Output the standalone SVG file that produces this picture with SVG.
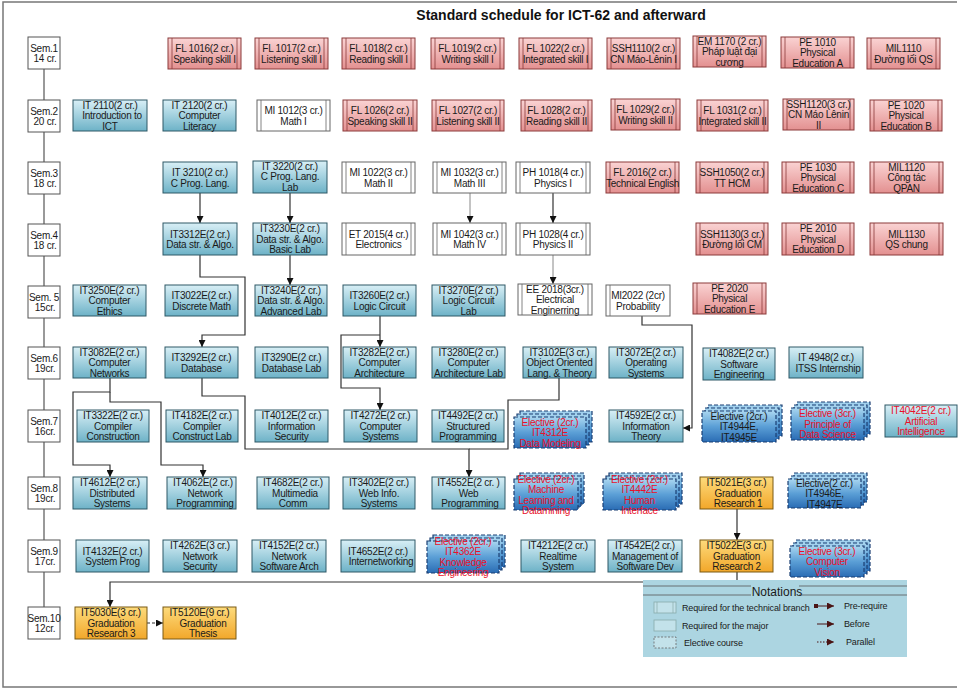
<svg xmlns="http://www.w3.org/2000/svg" width="960" height="689" viewBox="0 0 960 689">
<defs>
<linearGradient id="gb" x1="0" y1="0" x2="0" y2="1"><stop offset="0" stop-color="#d8eff6"/><stop offset="1" stop-color="#6db2c7"/></linearGradient>
<linearGradient id="gp" x1="0" y1="0" x2="0" y2="1"><stop offset="0" stop-color="#fad3d3"/><stop offset="1" stop-color="#e39090"/></linearGradient>
<linearGradient id="go" x1="0" y1="0" x2="0" y2="1"><stop offset="0" stop-color="#fddb7c"/><stop offset="1" stop-color="#f2a72a"/></linearGradient>
<linearGradient id="ge" x1="0" y1="0" x2="0" y2="1"><stop offset="0" stop-color="#a9d6f0"/><stop offset="0.5" stop-color="#5b9fd6"/><stop offset="1" stop-color="#2a6cb4"/></linearGradient>
<marker id="ar" viewBox="0 0 10 10" refX="10" refY="5" markerWidth="7" markerHeight="7" orient="auto" markerUnits="userSpaceOnUse"><path d="M0,0 L10,5 L0,10 z" fill="#111"/></marker>
<marker id="arr" viewBox="0 0 10 10" refX="10" refY="5" markerWidth="7" markerHeight="7" orient="auto" markerUnits="userSpaceOnUse"><path d="M0,0 L10,5 L0,10 z" fill="#4a1414"/></marker>
<style>
.pk{fill:url(#gp);stroke:#8b3b3b;stroke-width:1}
.pl{stroke:#8b3b3b;stroke-width:.8}
.wt{fill:#fff;stroke:#666;stroke-width:1}
.wl{stroke:#666;stroke-width:.8}
.bl{fill:url(#gb);stroke:#2e5866;stroke-width:1}
.or{fill:url(#go);stroke:#7a5a14;stroke-width:1}
.el{fill:url(#ge);stroke:#1b3f73;stroke-dasharray:4 2;stroke-width:1.2}
.sem{fill:#fff;stroke:#555;stroke-width:1}
.t{font-family:"Liberation Sans",Arial,sans-serif;font-size:10px;fill:#1a1a1a;text-anchor:middle;letter-spacing:-0.25px}
.r{fill:#e8102a}
.cn{fill:none;stroke:#333;stroke-width:1.2}
.cg{fill:none;stroke:#888;stroke-width:1}
.fr{fill:none;stroke:#777;stroke-width:1.5}
.lg{font-family:"Liberation Sans",Arial,sans-serif;font-size:9px;fill:#1a1a1a;letter-spacing:-0.15px}
</style>
</defs>
<rect width="960" height="689" fill="#fff"/>
<path class="fr" d="M957,2 H3 V687 H957"/>
<text x="561" y="20" font-family="Liberation Sans,Arial,sans-serif" font-size="14" font-weight="bold" text-anchor="middle" fill="#111">Standard schedule for ICT-62 and afterward</text>

<!-- semester spine -->
<g id="sem-spine"><path d="M44,69 V607" stroke="#555" stroke-width="1.2"/></g>
<g id="sem1"><rect class="sem" x="28" y="37" width="32" height="32"/><text class="t"><tspan x="44" y="51.5">Sem.1</tspan><tspan x="45" y="62">14 cr.</tspan></text></g>
<g id="sem2"><rect class="sem" x="28" y="100" width="32" height="32"/><text class="t"><tspan x="44" y="114.5">Sem.2</tspan><tspan x="45" y="125">20 cr.</tspan></text></g>
<g id="sem3"><rect class="sem" x="28" y="162" width="32" height="32"/><text class="t"><tspan x="44" y="176.5">Sem.3</tspan><tspan x="45" y="187">18 cr.</tspan></text></g>
<g id="sem4"><rect class="sem" x="28" y="224" width="32" height="32"/><text class="t"><tspan x="44" y="238.5">Sem.4</tspan><tspan x="45" y="249">18 cr.</tspan></text></g>
<g id="sem5"><rect class="sem" x="28" y="286" width="32" height="32"/><text class="t"><tspan x="44" y="300.5">Sem. 5</tspan><tspan x="45" y="311">15cr.</tspan></text></g>
<g id="sem6"><rect class="sem" x="28" y="347" width="32" height="32"/><text class="t"><tspan x="44" y="361.5">Sem.6</tspan><tspan x="45" y="372">19cr.</tspan></text></g>
<g id="sem7"><rect class="sem" x="28" y="410" width="32" height="32"/><text class="t"><tspan x="44" y="424.5">Sem.7</tspan><tspan x="45" y="435">16cr.</tspan></text></g>
<g id="sem8"><rect class="sem" x="28" y="477" width="32" height="32"/><text class="t"><tspan x="44" y="491.5">Sem.8</tspan><tspan x="45" y="502">19cr.</tspan></text></g>
<g id="sem9"><rect class="sem" x="28" y="540" width="32" height="32"/><text class="t"><tspan x="44" y="554.5">Sem.9</tspan><tspan x="45" y="565">17cr.</tspan></text></g>
<g id="sem10"><rect class="sem" x="28" y="607" width="32" height="32"/><text class="t"><tspan x="44" y="621.5">Sem.10</tspan><tspan x="45" y="632">12cr.</tspan></text></g>

<!-- connectors -->
<g id="connectors">
<path class="cn" d="M200,193 V223" marker-end="url(#ar)"/>
<path class="cn" d="M290,193 V223" marker-end="url(#ar)"/>
<path class="cn" d="M290,255 V285" marker-end="url(#ar)"/>
<path class="cn" d="M200,255 V277 H245 V335 H202 V347" marker-end="url(#ar)"/>
<path class="cg" d="M470,193 V223" marker-end="url(#ar)"/>
<path class="cn" d="M553,193 V223" marker-end="url(#ar)"/>
<path class="cg" d="M553,255 V284" marker-end="url(#ar)"/>
<path class="cn" d="M380,316 V347" marker-end="url(#ar)"/>
<path class="cn" d="M380,335 H341 V388 H380 V410" marker-end="url(#ar)"/>
<path class="cn" d="M110,378 V392 H73 V465 H110 V477" marker-end="url(#ar)"/>
<path class="cn" d="M110,392 V402 H161 V465 H203 V477" marker-end="url(#ar)"/>
<path class="cn" d="M202,378 V396 H245 V449 H469 V477" marker-end="url(#ar)"/>
<path class="cn" d="M559,378 V400 H508 V449 H469"/>
<path class="cn" d="M642,316 V325 H692 V428 H683" marker-end="url(#ar)"/>
<path class="cn" d="M737,509 V540" marker-end="url(#ar)"/>
<path class="cn" d="M737,572 V582 H110 V607" marker-end="url(#ar)"/>
<path class="cn" d="M147,623 H163" stroke-dasharray="3 2" marker-end="url(#ar)"/>
</g>

<!-- Row 1 -->
<g id="FL1016"><rect class="pk" x="168" y="38" width="73" height="31"/><path class="pl" d="M172,38V69M237,38V69"/><text class="t"><tspan x="204.5" y="52">FL 1016(2 cr.)</tspan><tspan x="204.5" y="62.5">Speaking skill I</tspan></text></g>
<g id="FL1017"><rect class="pk" x="255" y="38" width="73" height="31"/><path class="pl" d="M259,38V69M324,38V69"/><text class="t"><tspan x="291.5" y="52">FL 1017(2 cr.)</tspan><tspan x="291.5" y="62.5">Listening skill I</tspan></text></g>
<g id="FL1018"><rect class="pk" x="342" y="38" width="73" height="31"/><path class="pl" d="M346,38V69M411,38V69"/><text class="t"><tspan x="378.5" y="52">FL 1018(2 cr.)</tspan><tspan x="378.5" y="62.5">Reading skill I</tspan></text></g>
<g id="FL1019"><rect class="pk" x="431" y="38" width="73" height="31"/><path class="pl" d="M435,38V69M500,38V69"/><text class="t"><tspan x="467.5" y="52">FL 1019(2 cr.)</tspan><tspan x="467.5" y="62.5">Writing skill I</tspan></text></g>
<g id="FL1022"><rect class="pk" x="519" y="38" width="73" height="31"/><path class="pl" d="M523,38V69M588,38V69"/><text class="t"><tspan x="555.5" y="52">FL 1022(2 cr.)</tspan><tspan x="555.5" y="62.5">Integrated skill I</tspan></text></g>
<g id="SSH1110"><rect class="pk" x="607" y="38" width="73" height="31"/><path class="pl" d="M611,38V69M676,38V69"/><text class="t"><tspan x="643.5" y="52">SSH1110(2 cr.)</tspan><tspan x="643.5" y="62.5">CN Máo-Lênin I</tspan></text></g>
<g id="EM1170"><rect class="pk" x="693" y="36" width="73" height="31"/><path class="pl" d="M697,36V67M762,36V67"/><text class="t"><tspan x="729.5" y="44.5">EM 1170 (2 cr.)</tspan><tspan x="729.5" y="55">Pháp luật đại</tspan><tspan x="729.5" y="65.5">cương</tspan></text></g>
<g id="PE1010"><rect class="pk" x="781" y="37" width="73" height="31"/><path class="pl" d="M785,37V68M850,37V68"/><text class="t"><tspan x="817.5" y="45.5">PE 1010</tspan><tspan x="817.5" y="56">Physical</tspan><tspan x="817.5" y="66.5">Education A</tspan></text></g>
<g id="MIL1110"><rect class="pk" x="867" y="38" width="73" height="31"/><path class="pl" d="M871,38V69M936,38V69"/><text class="t"><tspan x="903.5" y="52">MIL1110</tspan><tspan x="903.5" y="62.5">Đường lối QS</tspan></text></g>

<!-- Row 2 -->
<g id="IT2110"><rect class="bl" x="73" y="100" width="74" height="31"/><text class="t"><tspan x="110" y="108.5">IT 2110(2 cr.)</tspan><tspan x="112" y="119">Introduction to</tspan><tspan x="110" y="129.5">ICT</tspan></text></g>
<g id="IT2120"><rect class="bl" x="163" y="100" width="73" height="31"/><text class="t"><tspan x="199.5" y="108.5">IT 2120(2 cr.)</tspan><tspan x="199.5" y="119">Computer</tspan><tspan x="199.5" y="129.5">Literacy</tspan></text></g>
<g id="MI1012"><rect class="wt" x="257" y="100" width="73" height="31"/><path class="wl" d="M261,100V131M326,100V131"/><text class="t"><tspan x="293.5" y="114">MI 1012(3 cr.)</tspan><tspan x="293.5" y="124.5">Math I</tspan></text></g>
<g id="FL1026"><rect class="pk" x="343" y="100" width="74" height="31"/><path class="pl" d="M347,100V131M413,100V131"/><text class="t"><tspan x="380" y="114">FL 1026(2 cr.)</tspan><tspan x="380" y="124.5">Speaking skill II</tspan></text></g>
<g id="FL1027"><rect class="pk" x="432" y="100" width="72" height="31"/><path class="pl" d="M436,100V131M500,100V131"/><text class="t"><tspan x="468" y="114">FL 1027(2 cr.)</tspan><tspan x="468" y="124.5">Listening skill II</tspan></text></g>
<g id="FL1028"><rect class="pk" x="521" y="100" width="71" height="31"/><path class="pl" d="M525,100V131M588,100V131"/><text class="t"><tspan x="556.5" y="114">FL 1028(2 cr.)</tspan><tspan x="556.5" y="124.5">Reading skill II</tspan></text></g>
<g id="FL1029"><rect class="pk" x="611" y="99" width="69" height="31"/><path class="pl" d="M615,99V130M676,99V130"/><text class="t"><tspan x="645.5" y="113">FL 1029(2 cr.)</tspan><tspan x="645.5" y="123.5">Writing skill II</tspan></text></g>
<g id="FL1031"><rect class="pk" x="697" y="100" width="71" height="31"/><path class="pl" d="M701,100V131M764,100V131"/><text class="t"><tspan x="732.5" y="114">FL 1031(2 cr.)</tspan><tspan x="732.5" y="124.5">Integrated skill II</tspan></text></g>
<g id="SSH1120"><rect class="pk" x="783" y="99" width="71" height="31"/><path class="pl" d="M787,99V130M850,99V130"/><text class="t"><tspan x="818.5" y="107.5">SSH1120(3 cr.)</tspan><tspan x="818.5" y="118">CN Máo Lênin</tspan><tspan x="818.5" y="128.5">II</tspan></text></g>
<g id="PE1020"><rect class="pk" x="870" y="100" width="72" height="31"/><path class="pl" d="M874,100V131M938,100V131"/><text class="t"><tspan x="906" y="108.5">PE 1020</tspan><tspan x="906" y="119">Physical</tspan><tspan x="906" y="129.5">Education B</tspan></text></g>

<!-- Row 3 -->
<g id="IT3210"><rect class="bl" x="163" y="162" width="74" height="31"/><text class="t"><tspan x="200" y="176">IT 3210(2 cr.)</tspan><tspan x="200" y="186.5">C Prog. Lang.</tspan></text></g>
<g id="IT3220"><rect class="bl" x="253" y="161" width="74" height="32"/><text class="t"><tspan x="290" y="169.5">IT 3220(2 cr.)</tspan><tspan x="290" y="180">C Prog. Lang.</tspan><tspan x="290" y="190.5">Lab</tspan></text></g>
<g id="MI1022"><rect class="wt" x="342" y="162" width="73" height="31"/><path class="wl" d="M346,162V193M411,162V193"/><text class="t"><tspan x="378.5" y="176">MI 1022(3 cr.)</tspan><tspan x="378.5" y="186.5">Math II</tspan></text></g>
<g id="MI1032"><rect class="wt" x="433" y="162" width="73" height="31"/><path class="wl" d="M437,162V193M502,162V193"/><text class="t"><tspan x="469.5" y="176">MI 1032(3 cr.)</tspan><tspan x="469.5" y="186.5">Math III</tspan></text></g>
<g id="PH1018"><rect class="wt" x="516" y="162" width="74" height="31"/><path class="wl" d="M520,162V193M586,162V193"/><text class="t"><tspan x="553" y="176">PH 1018(4 cr.)</tspan><tspan x="553" y="186.5">Physics I</tspan></text></g>
<g id="FL2016"><rect class="pk" x="606" y="162" width="73" height="31"/><path class="pl" d="M610,162V193M675,162V193"/><text class="t"><tspan x="642.5" y="176">FL 2016(2 cr.)</tspan><tspan x="642.5" y="186.5">Technical English</tspan></text></g>
<g id="SSH1050"><rect class="pk" x="696" y="162" width="72" height="31"/><path class="pl" d="M700,162V193M764,162V193"/><text class="t"><tspan x="732" y="176">SSH1050(2 cr.)</tspan><tspan x="732" y="186.5">TT HCM</tspan></text></g>
<g id="PE1030"><rect class="pk" x="782" y="162" width="72" height="31"/><path class="pl" d="M786,162V193M850,162V193"/><text class="t"><tspan x="818" y="170.5">PE 1030</tspan><tspan x="818" y="181">Physical</tspan><tspan x="818" y="191.5">Education C</tspan></text></g>
<g id="MIL1120"><rect class="pk" x="870" y="162" width="73" height="31"/><path class="pl" d="M874,162V193M939,162V193"/><text class="t"><tspan x="906.5" y="170.5">MIL1120</tspan><tspan x="906.5" y="181">Công tác</tspan><tspan x="906.5" y="191.5">QPAN</tspan></text></g>

<!-- Row 4 -->
<g id="IT3312E"><rect class="bl" x="163" y="223" width="74" height="32"/><text class="t"><tspan x="200" y="237.5">IT3312E(2 cr.)</tspan><tspan x="200" y="248">Data str. &amp; Algo.</tspan></text></g>
<g id="IT3230E"><rect class="bl" x="253" y="223" width="74" height="32"/><text class="t"><tspan x="290" y="232">IT3230E(2 cr.)</tspan><tspan x="290" y="242.5">Data str. &amp; Algo.</tspan><tspan x="290" y="253">Basic Lab</tspan></text></g>
<g id="ET2015"><rect class="wt" x="342" y="223" width="73" height="32"/><path class="wl" d="M346,223V255M411,223V255"/><text class="t"><tspan x="378.5" y="237.5">ET 2015(4 cr.)</tspan><tspan x="378.5" y="248">Electronics</tspan></text></g>
<g id="MI1042"><rect class="wt" x="433" y="223" width="73" height="32"/><path class="wl" d="M437,223V255M502,223V255"/><text class="t"><tspan x="469.5" y="237.5">MI 1042(3 cr.)</tspan><tspan x="469.5" y="248">Math IV</tspan></text></g>
<g id="PH1028"><rect class="wt" x="516" y="223" width="74" height="32"/><path class="wl" d="M520,223V255M586,223V255"/><text class="t"><tspan x="553" y="237.5">PH 1028(4 cr.)</tspan><tspan x="553" y="248">Physics II</tspan></text></g>
<g id="SSH1130"><rect class="pk" x="696" y="223" width="72" height="32"/><path class="pl" d="M700,223V255M764,223V255"/><text class="t"><tspan x="732" y="237.5">SSH1130(3 cr.)</tspan><tspan x="732" y="248">Đường lối CM</tspan></text></g>
<g id="PE2010"><rect class="pk" x="782" y="223" width="72" height="32"/><path class="pl" d="M786,223V255M850,223V255"/><text class="t"><tspan x="818" y="232">PE 2010</tspan><tspan x="818" y="242.5">Physical</tspan><tspan x="818" y="253">Education D</tspan></text></g>
<g id="MIL1130"><rect class="pk" x="870" y="223" width="73" height="32"/><path class="pl" d="M874,223V255M939,223V255"/><text class="t"><tspan x="906.5" y="237.5">MIL1130</tspan><tspan x="906.5" y="248">QS chung</tspan></text></g>

<!-- Row 5 -->
<g id="IT3250E"><rect class="bl" x="73" y="285" width="73" height="31"/><text class="t"><tspan x="109.5" y="293.5">IT3250E(2 cr.)</tspan><tspan x="109.5" y="304">Computer</tspan><tspan x="109.5" y="314.5">Ethics</tspan></text></g>
<g id="IT3022E"><rect class="bl" x="165" y="285" width="73" height="31"/><text class="t"><tspan x="201.5" y="299">IT3022E(2 cr.)</tspan><tspan x="201.5" y="309.5">Discrete Math</tspan></text></g>
<g id="IT3240E"><rect class="bl" x="255" y="285" width="72" height="31"/><text class="t"><tspan x="291" y="293.5">IT3240E(2 cr.)</tspan><tspan x="291" y="304">Data str. &amp; Algo.</tspan><tspan x="291" y="314.5">Advanced Lab</tspan></text></g>
<g id="IT3260E"><rect class="bl" x="343" y="285" width="73" height="31"/><text class="t"><tspan x="379.5" y="299">IT3260E(2 cr.)</tspan><tspan x="379.5" y="309.5">Logic Circuit</tspan></text></g>
<g id="IT3270E"><rect class="bl" x="432" y="285" width="73" height="31"/><text class="t"><tspan x="468.5" y="293.5">IT3270E(2 cr.)</tspan><tspan x="468.5" y="304">Logic Circuit</tspan><tspan x="468.5" y="314.5">Lab</tspan></text></g>
<g id="EE2018"><rect class="wt" x="518" y="284" width="74" height="31"/><path class="wl" d="M522,284V315M588,284V315"/><text class="t"><tspan x="555" y="292.5">EE 2018(3cr.)</tspan><tspan x="555" y="303">Electrical</tspan><tspan x="555" y="313.5">Enginerring</tspan></text></g>
<g id="MI2022"><rect class="wt" x="606" y="285" width="64" height="31"/><path class="wl" d="M610,285V316"/><text class="t"><tspan x="638" y="299">MI2022 (2cr)</tspan><tspan x="638" y="309.5">Probability</tspan></text></g>
<g id="PE2020"><rect class="pk" x="693" y="283" width="73" height="31"/><path class="pl" d="M697,283V314M762,283V314"/><text class="t"><tspan x="729.5" y="291.5">PE 2020</tspan><tspan x="729.5" y="302">Physical</tspan><tspan x="729.5" y="312.5">Education E</tspan></text></g>

<!-- Row 6 -->
<g id="IT3082E"><rect class="bl" x="73" y="347" width="73" height="31"/><text class="t"><tspan x="109.5" y="355.5">IT3082E(2 cr.)</tspan><tspan x="109.5" y="366">Computer</tspan><tspan x="109.5" y="376.5">Networks</tspan></text></g>
<g id="IT3292E"><rect class="bl" x="165" y="347" width="73" height="31"/><text class="t"><tspan x="201.5" y="361">IT3292E(2 cr.)</tspan><tspan x="201.5" y="371.5">Database</tspan></text></g>
<g id="IT3290E"><rect class="bl" x="255" y="347" width="73" height="31"/><text class="t"><tspan x="291.5" y="361">IT3290E(2 cr.)</tspan><tspan x="291.5" y="371.5">Database Lab</tspan></text></g>
<g id="IT3282E"><rect class="bl" x="343" y="347" width="73" height="31"/><text class="t"><tspan x="379.5" y="355.5">IT3282E(2 cr.)</tspan><tspan x="379.5" y="366">Computer</tspan><tspan x="379.5" y="376.5">Architecture</tspan></text></g>
<g id="IT3280E"><rect class="bl" x="432" y="347" width="73" height="31"/><text class="t"><tspan x="468.5" y="355.5">IT3280E(2 cr.)</tspan><tspan x="468.5" y="366">Computer</tspan><tspan x="468.5" y="376.5">Architecture Lab</tspan></text></g>
<g id="IT3102E"><rect class="bl" x="523" y="347" width="73" height="31"/><text class="t"><tspan x="559.5" y="355.5">IT3102E(3 cr.)</tspan><tspan x="559.5" y="366">Object Oriented</tspan><tspan x="559.5" y="376.5">Lang. &amp; Theory</tspan></text></g>
<g id="IT3072E"><rect class="bl" x="609" y="347" width="74" height="31"/><text class="t"><tspan x="646" y="355.5">IT3072E(2 cr.)</tspan><tspan x="646" y="366">Operating</tspan><tspan x="646" y="376.5">Systems</tspan></text></g>
<g id="IT4082E"><rect class="bl" x="703" y="348" width="72" height="32"/><text class="t"><tspan x="739" y="357">IT4082E(2 cr.)</tspan><tspan x="739" y="367.5">Software</tspan><tspan x="739" y="378">Engineering</tspan></text></g>
<g id="IT4948"><rect class="bl" x="789" y="347" width="74" height="31"/><text class="t"><tspan x="826" y="361">IT 4948(2 cr.)</tspan><tspan x="828" y="371.5">ITSS Internship</tspan></text></g>

<!-- Row 7 -->
<g id="IT3322E"><rect class="bl" x="77" y="410" width="72" height="32"/><text class="t"><tspan x="113" y="419">IT3322E(2 cr.)</tspan><tspan x="113" y="429.5">Compiler</tspan><tspan x="113" y="440">Construction</tspan></text></g>
<g id="IT4182E"><rect class="bl" x="166" y="410" width="72" height="32"/><text class="t"><tspan x="202" y="419">IT4182E(2 cr.)</tspan><tspan x="202" y="429.5">Compiler</tspan><tspan x="202" y="440">Construct Lab</tspan></text></g>
<g id="IT4012E"><rect class="bl" x="255" y="410" width="73" height="32"/><text class="t"><tspan x="291.5" y="419">IT4012E(2 cr.)</tspan><tspan x="291.5" y="429.5">Information</tspan><tspan x="291.5" y="440">Security</tspan></text></g>
<g id="IT4272E"><rect class="bl" x="344" y="410" width="73" height="32"/><text class="t"><tspan x="380.5" y="419">IT4272E(2 cr.)</tspan><tspan x="380.5" y="429.5">Computer</tspan><tspan x="380.5" y="440">Systems</tspan></text></g>
<g id="IT4492E"><rect class="bl" x="432" y="410" width="72" height="32"/><text class="t"><tspan x="468" y="419">IT4492E(2 cr.)</tspan><tspan x="468" y="429.5">Structured</tspan><tspan x="468" y="440">Programming</tspan></text></g>
<g id="EL-IT4312E"><rect class="el" x="520" y="411" width="72" height="31"/><rect class="el" x="517" y="414" width="72" height="31"/><rect class="el" x="514" y="417" width="72" height="31"/><text class="t r"><tspan x="550" y="425.5">Elective (2cr.)</tspan><tspan x="550" y="436">IT4312E</tspan><tspan x="550" y="446.5">Data Modeling</tspan></text></g>
<g id="IT4592E"><rect class="bl" x="609" y="410" width="74" height="32"/><text class="t"><tspan x="646" y="419">IT4592E(2 cr.)</tspan><tspan x="646" y="429.5">Information</tspan><tspan x="646" y="440">Theory</tspan></text></g>
<g id="EL-IT4944E"><rect class="el" x="708" y="405" width="74" height="31"/><rect class="el" x="705" y="408" width="74" height="31"/><rect class="el" x="702" y="411" width="74" height="31"/><text class="t"><tspan x="739" y="419.5">Elective (2cr.)</tspan><tspan x="739" y="430">IT4944E,</tspan><tspan x="739" y="440.5">IT4945E</tspan></text></g>
<g id="EL-DS"><rect class="el" x="797" y="402" width="73" height="32"/><rect class="el" x="794" y="405" width="73" height="32"/><rect class="el" x="791" y="408" width="73" height="32"/><text class="t r"><tspan x="827.5" y="417">Elective (3cr.)</tspan><tspan x="827.5" y="427.5">Principle of</tspan><tspan x="827.5" y="438">Data Science</tspan></text></g>
<g id="IT4042E"><rect class="bl" x="885" y="405" width="72" height="32"/><text class="t r"><tspan x="921" y="414">IT4042E(2 cr.)</tspan><tspan x="921" y="424.5">Artificial</tspan><tspan x="921" y="435">Intelligence</tspan></text></g>

<!-- Row 8 -->
<g id="IT4612E"><rect class="bl" x="73" y="477" width="74" height="32"/><text class="t"><tspan x="110" y="486">IT4612E(2 cr.)</tspan><tspan x="112" y="496.5">Distributed</tspan><tspan x="112" y="507">Systems</tspan></text></g>
<g id="IT4062E"><rect class="bl" x="167" y="477" width="69" height="32"/><text class="t"><tspan x="203" y="486">IT4062E(2 cr.)</tspan><tspan x="205" y="496.5">Network</tspan><tspan x="205" y="507">Programming</tspan></text></g>
<g id="IT4682E"><rect class="bl" x="257" y="477" width="72" height="32"/><text class="t"><tspan x="293" y="486">IT4682E(2 cr.)</tspan><tspan x="295" y="496.5">Multimedia</tspan><tspan x="293" y="507">Comm</tspan></text></g>
<g id="IT3402E"><rect class="bl" x="343" y="477" width="72" height="32"/><text class="t"><tspan x="379" y="486">IT3402E(2 cr.)</tspan><tspan x="379" y="496.5">Web Info.</tspan><tspan x="379" y="507">Systems</tspan></text></g>
<g id="IT4552E"><rect class="bl" x="432" y="477" width="73" height="32"/><text class="t"><tspan x="468.5" y="486">IT4552E(2 cr. )</tspan><tspan x="468.5" y="496.5">Web</tspan><tspan x="470" y="507">Programming</tspan></text></g>
<g id="EL-ML"><rect class="el" x="520" y="473" width="64" height="31"/><rect class="el" x="517" y="476" width="64" height="31"/><rect class="el" x="514" y="479" width="64" height="31"/><text class="t r"><tspan x="546" y="482.5">Elective (2cr.)</tspan><tspan x="546" y="493">Machine</tspan><tspan x="546" y="503.5">Learning and</tspan><tspan x="546" y="514">Datamining</tspan></text></g>
<g id="EL-IT4442E"><rect class="el" x="609" y="473" width="73" height="31"/><rect class="el" x="606" y="476" width="73" height="31"/><rect class="el" x="603" y="479" width="73" height="31"/><text class="t r"><tspan x="639.5" y="482.5">Elective (2cr.)</tspan><tspan x="639.5" y="493">IT4442E</tspan><tspan x="639.5" y="503.5">Human</tspan><tspan x="639.5" y="514">Interface</tspan></text></g>
<g id="IT5021E"><rect class="or" x="700" y="477" width="73" height="32"/><text class="t"><tspan x="736.5" y="486">IT5021E(3 cr.)</tspan><tspan x="738" y="496.5">Graduation</tspan><tspan x="738" y="507">Research 1</tspan></text></g>
<g id="EL-IT4946E"><rect class="el" x="794" y="473" width="73" height="29"/><rect class="el" x="791" y="476" width="73" height="29"/><rect class="el" x="788" y="479" width="73" height="29"/><text class="t"><tspan x="824.5" y="486.5">Elective(2 cr.)</tspan><tspan x="824.5" y="497">IT4946E,</tspan><tspan x="824.5" y="507.5">IT4947E</tspan></text></g>

<!-- Row 9 -->
<g id="IT4132E"><rect class="bl" x="76" y="540" width="73" height="32"/><text class="t"><tspan x="112.5" y="554.5">IT4132E(2 cr.)</tspan><tspan x="112.5" y="565">System Prog</tspan></text></g>
<g id="IT4262E"><rect class="bl" x="163" y="540" width="74" height="32"/><text class="t"><tspan x="200" y="549">IT4262E(3 cr.)</tspan><tspan x="200" y="559.5">Network</tspan><tspan x="200" y="570">Security</tspan></text></g>
<g id="IT4152E"><rect class="bl" x="252" y="540" width="74" height="32"/><text class="t"><tspan x="289" y="549">IT4152E(2 cr.)</tspan><tspan x="289" y="559.5">Network</tspan><tspan x="289" y="570">Software Arch</tspan></text></g>
<g id="IT4652E"><rect class="bl" x="341" y="540" width="74" height="32"/><text class="t"><tspan x="378" y="554.5">IT4652E(2 cr.)</tspan><tspan x="381" y="565">Internetworking</tspan></text></g>
<g id="EL-IT4362E"><rect class="el" x="433" y="535" width="72" height="32"/><rect class="el" x="430" y="538" width="72" height="32"/><rect class="el" x="427" y="541" width="72" height="32"/><text class="t r"><tspan x="463" y="544.5">Elective (2cr.)</tspan><tspan x="463" y="555">IT4362E</tspan><tspan x="463" y="565.5">Knowledge</tspan><tspan x="463" y="576">Engineering</tspan></text></g>
<g id="IT4212E"><rect class="bl" x="521" y="540" width="74" height="32"/><text class="t"><tspan x="558" y="549">IT4212E(2 cr.)</tspan><tspan x="558" y="559.5">Realtime</tspan><tspan x="558" y="570">System</tspan></text></g>
<g id="IT4542E"><rect class="bl" x="608" y="540" width="74" height="32"/><text class="t"><tspan x="645" y="549">IT4542E(2 cr.)</tspan><tspan x="645" y="559.5">Management of</tspan><tspan x="645" y="570">Software Dev</tspan></text></g>
<g id="IT5022E"><rect class="or" x="700" y="540" width="73" height="32"/><text class="t"><tspan x="736.5" y="549">IT5022E(3 cr.)</tspan><tspan x="736.5" y="559.5">Graduation</tspan><tspan x="736.5" y="570">Research 2</tspan></text></g>
<g id="EL-CV"><rect class="el" x="796" y="540" width="74" height="31"/><rect class="el" x="793" y="543" width="74" height="31"/><rect class="el" x="790" y="546" width="74" height="31"/><text class="t r"><tspan x="827" y="554.5">Elective (3cr.)</tspan><tspan x="827" y="565">Computer</tspan><tspan x="827" y="575.5">Vision</tspan></text></g>

<!-- Row 10 -->
<g id="IT5030E"><rect class="or" x="75" y="607" width="72" height="32"/><text class="t"><tspan x="111" y="616">IT5030E(3 cr.)</tspan><tspan x="111" y="626.5">Graduation</tspan><tspan x="111" y="637">Research 3</tspan></text></g>
<g id="IT5120E"><rect class="or" x="163" y="607" width="73" height="32"/><text class="t"><tspan x="199.5" y="616">IT5120E(9 cr.)</tspan><tspan x="203" y="626.5">Graduation</tspan><tspan x="203" y="637">Thesis</tspan></text></g>

<!-- Legend -->
<g id="legend">
<rect x="643" y="580" width="264" height="77" fill="#acd5e1"/>
<path d="M643,586H751M643,595H751M799,586H907M799,595H907" stroke="#555" stroke-width=".8" fill="none"/>
<text x="777" y="596" font-family="Liberation Sans,Arial,sans-serif" font-size="12" text-anchor="middle" fill="#1a1a1a">Notations</text>
<rect x="654" y="602" width="22" height="11" fill="#c3e2ea" stroke="#8aa" stroke-width=".8"/>
<path d="M657,602V613M673,602V613" stroke="#8aa" stroke-width=".7"/>
<rect x="654" y="620" width="22" height="11" fill="#c3e2ea" stroke="#8aa" stroke-width=".8"/>
<rect x="654" y="637" width="22" height="11" fill="#c3e2ea" stroke="#666" stroke-width=".8" stroke-dasharray="2 1.5"/>
<text class="lg" x="682" y="611">Required for the technical branch</text>
<text class="lg" x="682" y="629">Required for the major</text>
<text class="lg" x="684" y="646">Elective course</text>
<rect x="814" y="604" width="4" height="4" fill="#4a1414"/>
<path d="M818,606H834" stroke="#4a1414" stroke-width="1" marker-end="url(#arr)"/>
<path d="M817,624H834" stroke="#4a1414" stroke-width="1" marker-end="url(#arr)"/>
<path d="M817,642H834" stroke="#4a1414" stroke-width="1" stroke-dasharray="1.5 1.5" marker-end="url(#arr)"/>
<text class="lg" x="844" y="609">Pre-require</text>
<text class="lg" x="844" y="627">Before</text>
<text class="lg" x="846" y="645">Parallel</text>
</g>
</svg>
